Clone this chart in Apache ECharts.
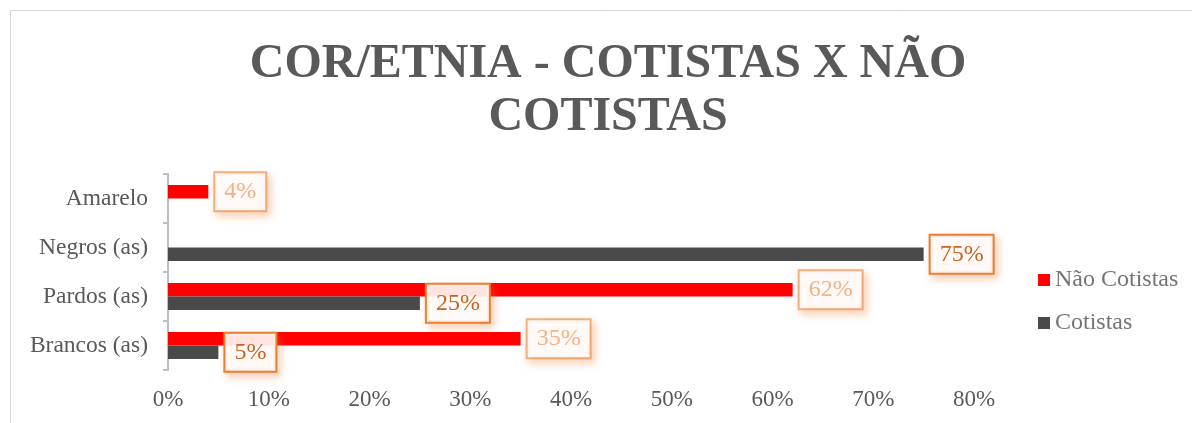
<!DOCTYPE html>
<html>
<head>
<meta charset="utf-8">
<script src="https://cdn.jsdelivr.net/npm/echarts@6/dist/echarts.min.js"></script>
<style>html,body{margin:0;padding:0;background:#fff}#c{width:1192px;height:423px}</style>
</head>
<body>
<div id="c"></div>
<script>
var categories = ['Brancos (as)', 'Pardos (as)', 'Negros (as)', 'Amarelo'];
var cotistas = [5, 25, 75, null];
var naoCotistas = [35, 62, null, 4];
var seriesNames = ['Não Cotistas', 'Cotistas'];
var titleText = 'COR/ETNIA - COTISTAS X NÃO\nCOTISTAS';

var FONT = '"Liberation Serif", "Times New Roman", serif';
var chart = echarts.init(document.getElementById('c'), null, {renderer: 'canvas'});

function labelCfg(textColor, borderColor) {
  return {
    show: true,
    position: 'right',
    distance: 7,
    formatter: function (p) { return p.value == null ? '' : p.value + '%'; },
    fontFamily: FONT,
    fontSize: 24,
    color: textColor,
    backgroundColor: 'rgba(255,255,255,0.88)',
    borderColor: borderColor,
    borderWidth: 2,
    padding: [7, 9, 6, 9],
    shadowColor: 'rgba(237,125,49,0.35)',
    shadowBlur: 8,
    shadowOffsetX: 3,
    shadowOffsetY: 4
  };
}

chart.setOption({
  animation: false,
  backgroundColor: '#fff',
  title: {
    text: titleText,
    left: 608,
    textAlign: 'center',
    top: 38,
    padding: 0,
    textStyle: {fontFamily: FONT, fontSize: 48, fontWeight: 'bold', color: '#595959', lineHeight: 53}
  },
  legend: {
    data: seriesNames,
    orient: 'vertical',
    left: 1033,
    top: 263,
    itemWidth: 12,
    itemHeight: 12,
    itemGap: 19,
    icon: 'rect',
    textStyle: {fontFamily: FONT, fontSize: 24, color: '#757575', lineHeight: 24}
  },
  grid: {left: 168, top: 174, width: 806, height: 196, containLabel: false},
  xAxis: {
    type: 'value',
    min: 0, max: 80, interval: 10,
    axisLine: {show: false},
    axisTick: {show: false},
    splitLine: {show: false},
    axisLabel: {formatter: '{value}%', fontFamily: FONT, fontSize: 23, color: '#595959', margin: 18}
  },
  yAxis: {
    type: 'category',
    data: categories,
    axisLine: {show: true, lineStyle: {color: '#bfbfbf', width: 2}},
    axisTick: {show: true, length: 5, lineStyle: {color: '#bfbfbf', width: 2}},
    axisLabel: {fontFamily: FONT, fontSize: 23.5, color: '#595959', margin: 20}
  },
  graphic: [{
    type: 'rect',
    shape: {x: 10.5, y: 10.5, width: 1250, height: 500},
    style: {fill: 'none', stroke: '#d9d9d9', lineWidth: 1},
    silent: true
  }],
  series: [
    {
      name: 'Não Cotistas', type: 'bar', data: naoCotistas,
      barWidth: 13.5, barGap: '0%',
      itemStyle: {color: '#FF0000'},
      label: labelCfg('#F4B183', '#F4B183')
    },
    {
      name: 'Cotistas', type: 'bar', data: cotistas,
      barWidth: 13.5, barGap: '0%',
      itemStyle: {color: '#4a4a4a'},
      label: labelCfg('#C9631F', '#ED7D31')
    }
  ]
});
</script>
</body>
</html>
